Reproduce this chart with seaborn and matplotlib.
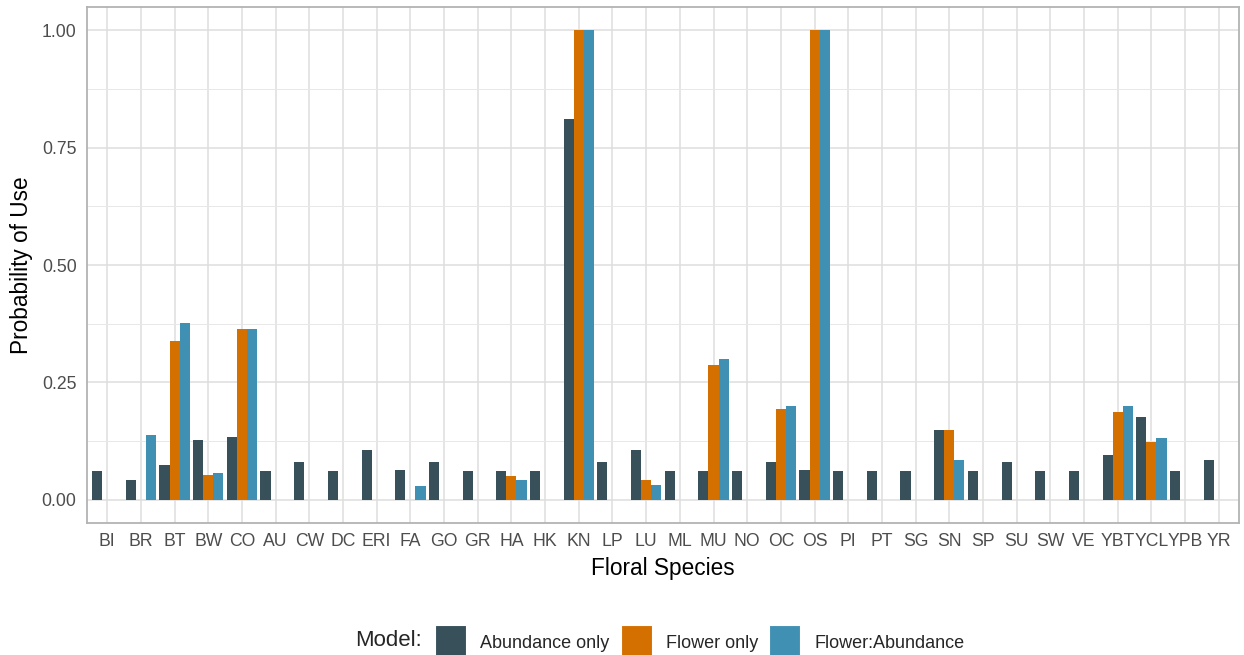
import seaborn as sns
import matplotlib.pyplot as plt
import matplotlib.patches as mpatches
import pandas as pd
import numpy as np

# Probability of use per floral species
species = ["BI", "BR", "BT", "BW", "CO", "AU", "CW", "DC", "ERI", "FA", "GO", "GR",
           "HA", "HK", "KN", "LP", "LU", "ML", "MU", "NO", "OC", "OS", "PI", "PT",
           "SG", "SN", "SP", "SU", "SW", "VE", "YBT", "YCL", "YPB", "YR"]

abundance_only = [0.060, 0.042, 0.074, 0.126, 0.133, 0.060, 0.081, 0.060, 0.105, 0.064,
                  0.081, 0.060, 0.060, 0.060, 0.812, 0.081, 0.105, 0.060, 0.060, 0.060,
                  0.081, 0.064, 0.060, 0.060, 0.060, 0.148, 0.060, 0.081, 0.061, 0.061,
                  0.095, 0.175, 0.061, 0.084]

flower_species = ["BT", "BW", "CO", "HA", "KN", "LU", "MU", "OC", "OS", "SN", "YBT", "YCL"]
flower_only = [0.338, 0.053, 0.363, 0.050, 1.0, 0.042, 0.286, 0.193, 1.0, 0.148, 0.186, 0.123]

fa_species = ["BR", "BT", "BW", "CO", "FA", "HA", "KN", "LU", "MU", "OC", "OS", "SN", "YBT", "YCL"]
flower_abundance = [0.137, 0.377, 0.057, 0.363, 0.029, 0.042, 1.0, 0.032, 0.300, 0.199,
                    1.0, 0.084, 0.200, 0.132]

models = ["Abundance only", "Flower only", "Flower:Abundance"]
colours = ["#37505a", "#d37000", "#3f90b3"]

df = pd.concat([
    pd.DataFrame({"species": species, "prob": abundance_only, "model": models[0]}),
    pd.DataFrame({"species": flower_species, "prob": flower_only, "model": models[1]}),
    pd.DataFrame({"species": fa_species, "prob": flower_abundance, "model": models[2]}),
])

sns.set_style("white")
plt.rcParams['font.family'] = ['Liberation Sans', 'DejaVu Sans']

fig = plt.figure(figsize=(12.44, 6.55), dpi=100)
ax = fig.add_axes([87 / 1244, 1 - 523 / 655, (1239 - 87) / 1244, (523 - 7) / 655])

sns.barplot(data=df, x="species", y="prob", hue="model", order=species,
            hue_order=models, palette=colours, saturation=1, width=0.9, gap=0,
            errorbar=None, linewidth=0, legend=False, ax=ax, zorder=3)

# ggplot theme_light look
ax.set_xlim(-0.6, len(species) - 0.4)
ax.set_ylim(-0.05, 1.05)
ax.set_yticks([0, 0.25, 0.5, 0.75, 1.0])
ax.set_yticklabels(["0.00", "0.25", "0.50", "0.75", "1.00"])
ax.set_yticks([0.125, 0.375, 0.625, 0.875], minor=True)
ax.grid(True, which="major", color="#dedede", linewidth=1.1, zorder=0)
ax.grid(True, which="minor", axis="y", color="#e8e8e8", linewidth=0.7, zorder=0)
ax.set_axisbelow(True)
for s in ax.spines.values():
    s.set_color("#b3b3b3")
    s.set_linewidth(1.3)
ax.tick_params(axis="both", which="major", length=4.5, width=1, color="#b3b3b3",
               labelsize=12.7, labelcolor="#4d4d4d", pad=3)
ax.tick_params(axis="y", which="minor", length=0)

ax.set_xlabel("Floral Species", fontsize=16.3, color="black", labelpad=5)
ax.set_ylabel("Probability of Use", fontsize=16.3, color="black", labelpad=6)

# legend along the bottom, partly cut off like the original
handles = [mpatches.Patch(facecolor=c, edgecolor="white", linewidth=0.8) for c in colours]
fig.text(355 / 1244, 1 - 641 / 655, "Model:", fontsize=16, va="center", ha="left")
fig.legend(handles, models, loc="center left", bbox_to_anchor=(435 / 1244, 1 - 642 / 655),
           ncol=3, frameon=False, fontsize=13, handlelength=1.72, handleheight=2.45,
           handletextpad=0.8, columnspacing=0.6, borderpad=0, borderaxespad=0)

plt.savefig("out.png", dpi=100)
